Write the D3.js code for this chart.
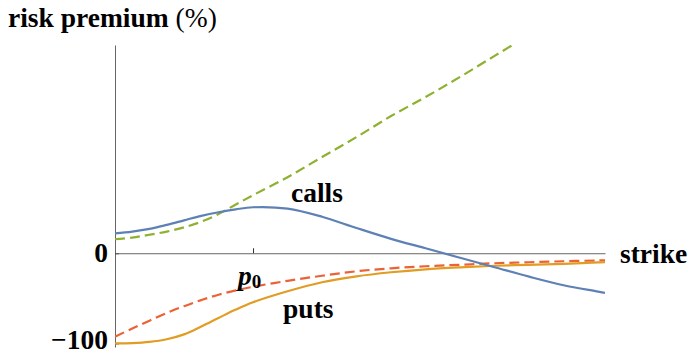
<!DOCTYPE html>
<html>
<head>
<meta charset="utf-8">
<script src="https://cdn.jsdelivr.net/npm/d3@7/dist/d3.min.js"></script>
<style>
  html, body { margin: 0; padding: 0; background: #fff; }
</style>
</head>
<body>
<svg id="chart" width="691" height="354"></svg>
<script>
// Strike grid, expressed as moneyness K / p0
const strike = [0.6, 0.65, 0.7, 0.75, 0.8, 0.85, 0.9, 0.95, 1.0, 1.1, 1.2, 1.3, 1.4, 1.5, 1.6, 1.7, 1.8, 1.9, 2.0, 2.02];

// Risk premium (%) of calls: model (solid) and benchmark (dashed)
const callsSolid  = [22, 24, 27, 31.5, 36.5, 41.5, 45.5, 48.7, 51, 49.5, 40.5, 28, 16, 5.5, -5, -15.5, -26, -35.5, -42.5, -44];
const callsDashed = [15.6, 17.4, 20.5, 24, 28.7, 35, 43.5, 54, 64.4, 84.4, 106.7, 128.9, 152.2, 173.3, 195.6, 218.9, 242, null, null, null];

// Risk premium (%) of puts: model (solid) and benchmark (dashed)
const putsSolid  = [-100, -99.6, -98.3, -95.4, -90, -81.2, -71.8, -62.5, -54.4, -42.2, -32.2, -25.6, -21.1, -17.8, -15.6, -13.9, -12.8, -11.7, -10.2, -10];
const putsDashed = [-92.5, -83.5, -74.8, -66.3, -58.7, -52, -46, -41.2, -37.2, -30.6, -25, -20, -16.7, -14.4, -12.8, -11.1, -10, -8.9, -8, -7.8];

const yTicks = [0, -100];
const xTicks = [1];
const yDomain = [-104, 231];
const xDomain = [0.6, 2.02];

const colors = { blue: "#5e81b5", orange: "#e19c24", green: "#8fb131", red: "#eb6235" };
const serif = "'Liberation Serif', 'Times New Roman', serif";
const fontSize = 27.5;

const svg = d3.select("#chart");
const plot = { left: 115, right: 605, top: 45, bottom: 347 };

const x = d3.scaleLinear().domain(xDomain).range([plot.left, plot.right]);
const y = d3.scaleLinear().domain(yDomain).range([plot.bottom, plot.top]);

svg.append("defs").append("clipPath").attr("id", "plot-clip")
  .append("rect")
  .attr("x", plot.left).attr("y", plot.top)
  .attr("width", plot.right - plot.left).attr("height", plot.bottom - plot.top);

// Axes crossing at (xDomain[0], 0)
const axisColor = "#666";

const yAxis = d3.axisLeft(y).tickValues(yTicks).tickSizeInner(-4).tickSizeOuter(0).tickPadding(7)
  .tickFormat(d => d < 0 ? "\u2212" + Math.abs(d) : d);
const gy = svg.append("g").attr("transform", `translate(${plot.left},0)`).call(yAxis);
gy.select(".domain").attr("stroke", axisColor);
gy.selectAll(".tick line").attr("stroke", "#333");
gy.selectAll(".tick text")
  .style("font-family", serif).style("font-size", fontSize + "px").style("font-weight", "bold")
  .attr("fill", "#000")
  .attr("dy", d => d < 0 ? "0.2em" : "0.3em");

const xAxis = d3.axisBottom(x).tickValues(xTicks).tickSizeInner(-5).tickSizeOuter(0).tickFormat("");
const gx = svg.append("g").attr("transform", `translate(0,${y(0)})`).call(xAxis);
gx.select(".domain").attr("stroke", axisColor);
gx.selectAll(".tick line").attr("stroke", "#333");

// Curves
const series = [
  { values: callsDashed, color: colors.green,  dash: "10,5" },
  { values: putsDashed,  color: colors.red,    dash: "10,5" },
  { values: putsSolid,   color: colors.orange, dash: null },
  { values: callsSolid,  color: colors.blue,   dash: null }
];

const line = d3.line()
  .defined(d => d[1] !== null)
  .x(d => x(d[0]))
  .y(d => y(d[1]))
  .curve(d3.curveCatmullRom.alpha(0.5));

const curves = svg.append("g").attr("clip-path", "url(#plot-clip)");
series.forEach(s => {
  curves.append("path")
    .datum(strike.map((k, i) => [k, s.values[i]]))
    .attr("fill", "none")
    .attr("stroke", s.color)
    .attr("stroke-width", 2.2)
    .attr("stroke-dasharray", s.dash)
    .attr("d", line);
});

// Text
const label = (tx, ty, str) => svg.append("text")
  .attr("x", tx).attr("y", ty)
  .style("font-family", serif).style("font-size", fontSize + "px").style("font-weight", "bold")
  .attr("fill", "#000")
  .text(str);

const title = svg.append("text").attr("x", 8).attr("y", 27)
  .style("font-family", serif).style("font-size", fontSize + "px").attr("fill", "#000");
title.append("tspan").style("font-weight", "bold").text("risk premium");
title.append("tspan").text(" (%)");

label(plot.right + 15, y(0) + 10, "strike");
label(x(1.11), y(56.5), "calls");
label(x(1.087), y(-72), "puts");

const p0 = svg.append("text").attr("x", x(xTicks[0]) - 15).attr("y", y(0) + 32)
  .style("font-family", serif).style("font-size", fontSize + "px").style("font-weight", "bold")
  .attr("fill", "#000");
p0.append("tspan").style("font-style", "italic").text("p");
p0.append("tspan").style("font-size", "19px").attr("dy", 3).text("0");
</script>
</body>
</html>
